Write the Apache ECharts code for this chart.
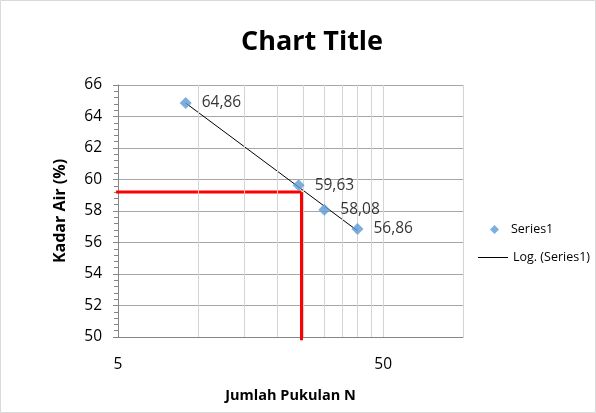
<!DOCTYPE html>
<html>
<head>
<meta charset="utf-8">
<script src="https://cdn.jsdelivr.net/npm/echarts@6/dist/echarts.min.js"></script>
<style>
  html, body { margin: 0; padding: 0; background: #fff; }
  #chart { width: 596px; height: 413px; }
</style>
</head>
<body>
<div id="chart"></div>
<script>
// data
const blows = [9, 24, 30, 40]
const moisture = [64.86, 59.63, 58.08, 56.86]
const xLabelValues = [5, 50]
const xGridValues = [10, 15, 20, 25, 30, 35, 40, 45, 50, 100]
// liquid limit guide (red lines)
const llBlows = 24.6
const llMoisture = 59.2
const guideH = [[4.5, llMoisture], [llBlows, llMoisture]]
const guideV = [[llBlows, llMoisture], [llBlows, 49.79]]

const font = '"Open Sans", "Noto Sans", sans-serif'

// logarithmic trend: y = a + b ln(x)
function logFit(xs, ys) {
    const lx = xs.map(v => Math.log(v))
    const n = xs.length
    const mx = lx.reduce((s, v) => s + v, 0) / n
    const my = ys.reduce((s, v) => s + v, 0) / n
    let sxy = 0, sxx = 0
    lx.forEach((v, i) => {
        sxy += (v - mx) * (ys[i] - my)
        sxx += (v - mx) * (v - mx)
    })
    const b = sxy / sxx
    return { a: my - b * mx, b: b }
}
const fit = logFit(blows, moisture)
const xLo = Math.min(...blows)
const xHi = Math.max(...blows)
const trend = [[xLo, fit.a + fit.b * Math.log(xLo)], [xHi, fit.a + fit.b * Math.log(xHi)]]

const chart = echarts.init(document.getElementById('chart'))
chart.setOption({
    animation: false,
    textStyle: { fontFamily: font },
    graphic: [{
        type: 'rect',
        shape: { x: 0.5, y: 0.5, width: 595, height: 412 },
        style: { fill: 'none', stroke: '#d9d9d9', lineWidth: 1 },
        silent: true
    }],
    title: {
        text: 'Chart Title',
        left: 236,
        top: 24,
        textStyle: { fontSize: 27, fontWeight: 'bold', color: '#000', fontFamily: font }
    },
    legend: [
        {
            left: 485,
            top: 218,
            itemWidth: 9,
            itemHeight: 9,
            icon: 'diamond',
            textStyle: { fontSize: 12.5, color: '#000', padding: [0, 0, 0, 7] },
            data: ['Series1']
        },
        {
            left: 473,
            top: 246,
            itemWidth: 30,
            itemHeight: 1,
            icon: 'rect',
            itemStyle: { color: '#000' },
            textStyle: { fontSize: 12.5, color: '#000', padding: [0, 0, 0, 0] },
            data: ['Log. (Series1)']
        }
    ],
    grid: { left: 118, right: 133, top: 85, bottom: 76 },
    xAxis: {
        type: 'log',
        logBase: 10,
        min: 5,
        max: 100,
        name: 'Jumlah Pukulan N',
        nameLocation: 'middle',
        nameGap: 51,
        nameTextStyle: { fontSize: 14.5, fontWeight: 'bold', color: '#000' },
        axisLine: { show: true, lineStyle: { color: '#868686' } },
        axisTick: { show: false },
        splitLine: { show: false },
        minorSplitLine: { show: false },
        axisLabel: {
            customValues: xLabelValues,
            fontSize: 15.5,
            color: '#000',
            margin: 20
        }
    },
    yAxis: {
        type: 'value',
        min: 50,
        max: 66,
        interval: 2,
        name: 'Kadar Air (%)',
        nameLocation: 'middle',
        nameGap: 50,
        nameTextStyle: { fontSize: 16, fontWeight: 'bold', color: '#000' },
        axisLine: { show: true, lineStyle: { color: '#868686' } },
        axisTick: { show: true, length: 5, lineStyle: { color: '#868686' } },
        minorTick: { show: true, splitNumber: 5, length: 4, lineStyle: { color: '#868686' } },
        splitLine: { show: true, lineStyle: { color: '#a6a6a6' } },
        axisLabel: { fontSize: 15.5, color: '#000', margin: 16 }
    },
    series: [
        {
            name: 'grid-x',
            type: 'line',
            data: [],
            silent: true,
            markLine: {
                silent: true,
                symbol: 'none',
                label: { show: false },
                lineStyle: { color: '#d4d4d4', type: 'solid', width: 1 },
                data: xGridValues.map(v => ({ xAxis: v }))
            },
            z: 1
        },
        {
            name: 'guideH',
            type: 'line',
            data: guideH,
            symbol: 'none',
            clip: false,
            lineStyle: { color: '#ff0000', width: 3 },
            z: 3
        },
        {
            name: 'guideV',
            type: 'line',
            data: guideV,
            symbol: 'none',
            clip: false,
            lineStyle: { color: '#ff0000', width: 3 },
            z: 3
        },
        {
            name: 'Log. (Series1)',
            type: 'line',
            data: trend,
            symbol: 'none',
            itemStyle: { color: '#000' },
            lineStyle: { color: '#000', width: 1 },
            z: 4
        },
        {
            name: 'Series1',
            type: 'scatter',
            data: blows.map((x, i) => [x, moisture[i]]),
            symbol: 'diamond',
            symbolSize: 12,
            itemStyle: { color: '#5b9bd5' },
            label: {
                show: true,
                position: 'right',
                distance: 10,
                fontSize: 15.5,
                color: '#000',
                formatter: p => p.value[1].toFixed(2).replace('.', ',')
            },
            z: 5
        }
    ]
})
</script>
</body>
</html>
